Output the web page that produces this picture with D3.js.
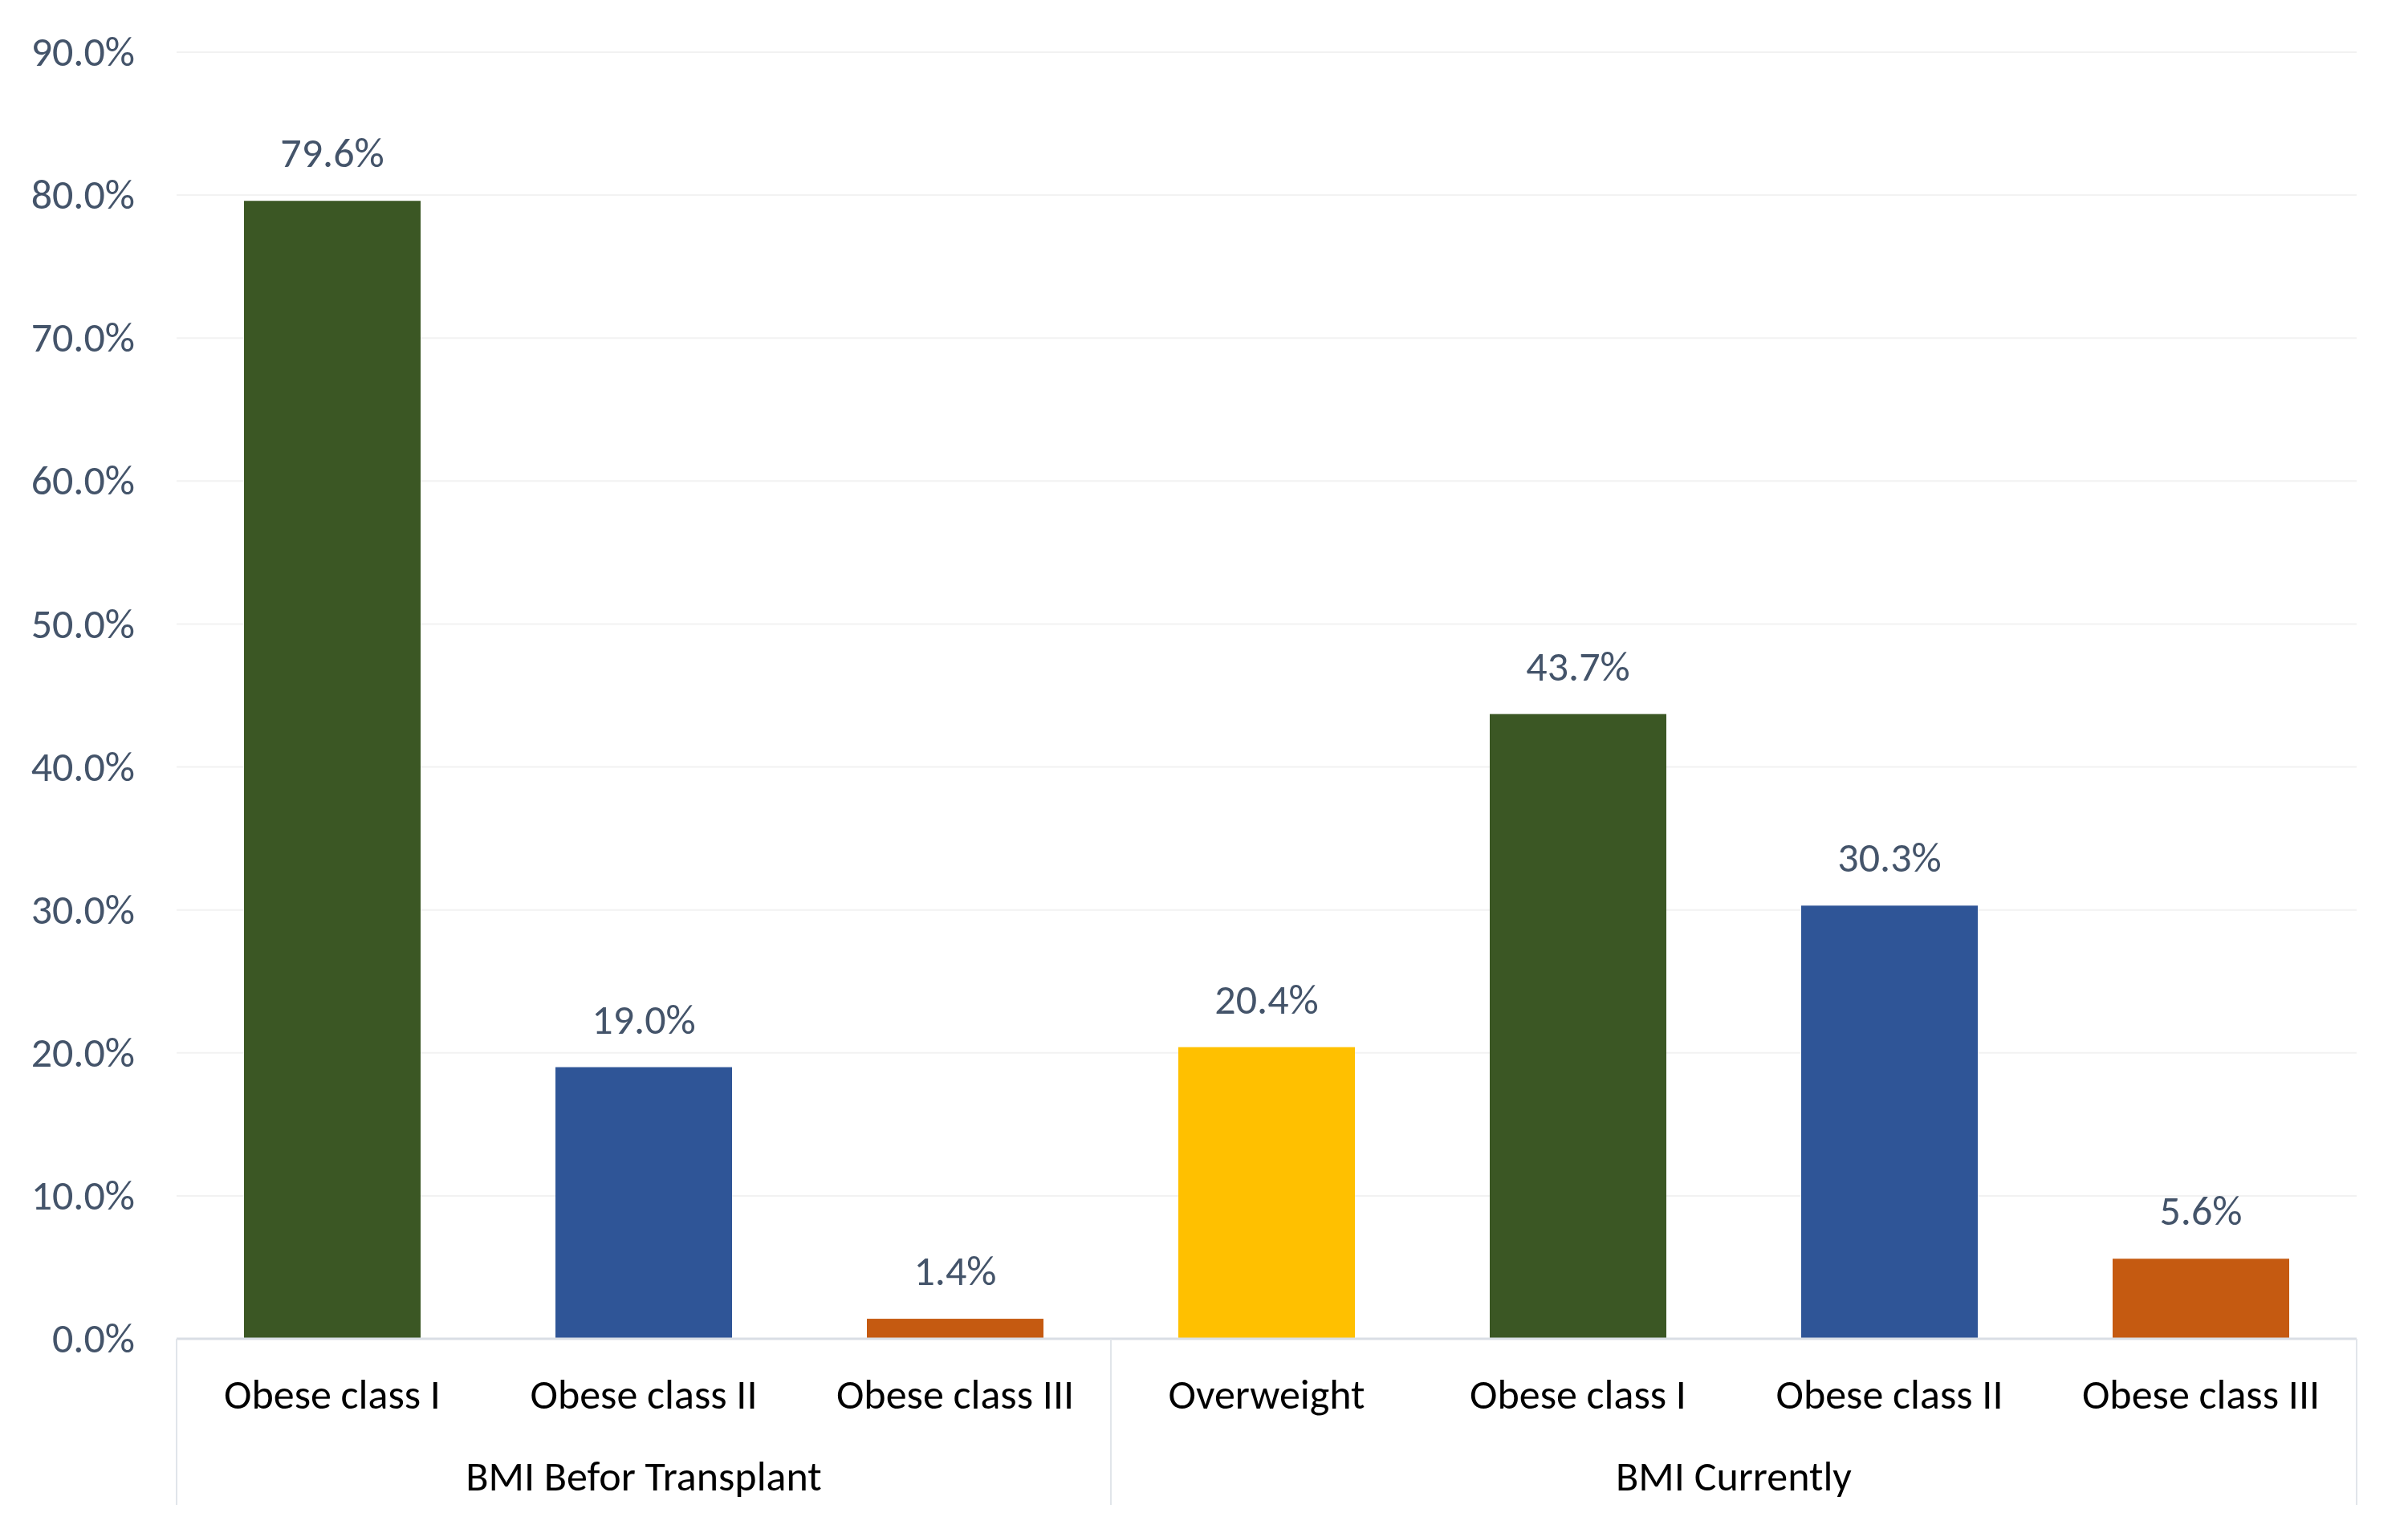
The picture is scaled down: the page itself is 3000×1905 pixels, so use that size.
<!DOCTYPE html>
<html>
<head>
<meta charset="utf-8">
<script src="https://d3js.org/d3.v7.min.js"></script>
<style>
  body { margin: 0; background: #ffffff; }
  text { font-family: Calibri, Carlito, Lato, sans-serif; }
</style>
</head>
<body>
<svg id="chart" width="3000" height="1905"></svg>
<script>
// les données du graphique
var groups = ["BMI Befor Transplant", "BMI Befor Transplant", "BMI Befor Transplant",
              "BMI Currently", "BMI Currently", "BMI Currently", "BMI Currently"];
var categories = ["Obese class I", "Obese class II", "Obese class III",
                  "Overweight", "Obese class I", "Obese class II", "Obese class III"];
var values = [0.796, 0.190, 0.014, 0.204, 0.437, 0.303, 0.056];
var yTicks = [0, 0.1, 0.2, 0.3, 0.4, 0.5, 0.6, 0.7, 0.8, 0.9];

(function() {
// une couleur par catégorie
var color = d3.scaleOrdinal()
  .domain(["Overweight", "Obese class I", "Obese class II", "Obese class III"])
  .range(["#FFC000", "#3B5724", "#2F5597", "#C55A11"]);

var svg = d3.select("#chart");

var plotLeft = 220, plotRight = 2936, plotTop = 65, base = 1668, plotBottom = 1875;
var fontSize = "52px";

var pad = 0.433;
var x = d3.scaleBand()
  .domain(d3.range(values.length))
  .range([plotLeft, plotRight])
  .paddingInner(pad)
  .paddingOuter(pad / 2);

var y = d3.scaleLinear()
  .domain([0, 0.9])
  .range([base, plotTop]);

var fmt = d3.format(".1%");

// lignes de la grille
svg.append("g")
  .selectAll("line")
  .data(yTicks.slice(1))
  .enter().append("line")
    .attr("x1", plotLeft)
    .attr("x2", plotRight)
    .attr("y1", function(d) { return y(d); })
    .attr("y2", function(d) { return y(d); })
    .attr("stroke", "#F2F2F2")
    .attr("stroke-width", 2);

// axe des ordonnées
var yAxis = svg.append("g")
  .attr("transform", "translate(" + plotLeft + ",0)")
  .call(d3.axisLeft(y).tickValues(yTicks).tickFormat(fmt).tickSize(0).tickPadding(52));
yAxis.select(".domain").remove();
yAxis.selectAll("text")
  .attr("fill", "#44546A")
  .style("font-size", fontSize)
  .style("font-family", "Calibri, Carlito, Lato, sans-serif");

// les barres
svg.append("g")
  .selectAll("rect")
  .data(values)
  .enter().append("rect")
    .attr("x", function(d, i) { return x(i); })
    .attr("y", function(d) { return y(d); })
    .attr("width", x.bandwidth())
    .attr("height", function(d) { return y(0) - y(d); })
    .attr("fill", function(d, i) { return color(categories[i]); });

// étiquettes des valeurs
svg.append("g")
  .selectAll("text")
  .data(values)
  .enter().append("text")
    .attr("x", function(d, i) { return x(i) + x.bandwidth() / 2; })
    .attr("y", function(d) { return y(d) - 42; })
    .attr("text-anchor", "middle")
    .attr("fill", "#44546A")
    .style("font-size", fontSize)
    .text(function(d) { return fmt(d); });

// axe des catégories
svg.append("line")
  .attr("x1", plotLeft).attr("x2", plotRight)
  .attr("y1", base).attr("y2", base)
  .attr("stroke", "#D9DEE5")
  .attr("stroke-width", 3);

// séparateurs des groupes
var groupNames = Array.from(new Set(groups));
var edges = [0];
groupNames.forEach(function(g) { edges.push(groups.lastIndexOf(g) + 1); });
function edgeX(d) {
  return d < values.length ? x(d) - x.step() * pad / 2 : plotRight;
}
svg.append("g")
  .selectAll("line")
  .data(edges)
  .enter().append("line")
    .attr("x1", edgeX)
    .attr("x2", edgeX)
    .attr("y1", base)
    .attr("y2", plotBottom)
    .attr("stroke", "#E1E5EA")
    .attr("stroke-width", 2);

svg.append("g")
  .selectAll("text")
  .data(categories)
  .enter().append("text")
    .attr("x", function(d, i) { return x(i) + x.bandwidth() / 2; })
    .attr("y", 1755)
    .attr("text-anchor", "middle")
    .attr("fill", "#000000")
    .style("font-size", fontSize)
    .text(function(d) { return d; });

svg.append("g")
  .selectAll("text")
  .data(groupNames)
  .enter().append("text")
    .attr("x", function(g) {
      var a = groups.indexOf(g), b = groups.lastIndexOf(g);
      return (x(a) + x(b) + x.bandwidth()) / 2;
    })
    .attr("y", 1857)
    .attr("text-anchor", "middle")
    .attr("fill", "#000000")
    .style("font-size", fontSize)
    .text(function(g) { return g; });
})();
</script>
</body>
</html>
